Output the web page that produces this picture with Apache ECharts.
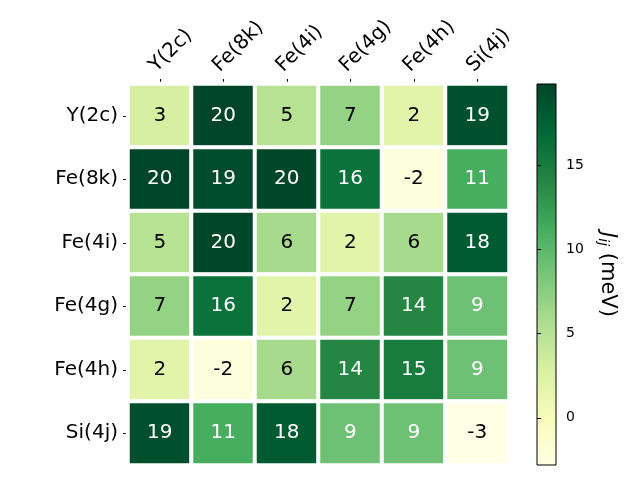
<!DOCTYPE html>
<html><head><meta charset="utf-8">
<script src="https://cdn.jsdelivr.net/npm/echarts@6/dist/echarts.min.js"></script>
<style>html,body{margin:0;padding:0;background:#fff}#c{width:640px;height:480px}</style>
</head><body><div id="c"></div>
<script>
const sites = ['Y(2c)', 'Fe(8k)', 'Fe(4i)', 'Fe(4g)', 'Fe(4h)', 'Si(4j)'];
const rowY2c  = [3.0, 19.8, 5.0, 7.0, 2.0, 19.0];
const rowFe8k = [19.8, 19.2, 19.7, 16.0, -2.2, 11.0];
const rowFe4i = [5.0, 19.7, 6.0, 2.0, 6.0, 18.0];
const rowFe4g = [7.0, 16.0, 2.0, 7.0, 14.0, 9.0];
const rowFe4h = [2.0, -2.2, 6.0, 14.0, 15.0, 9.0];
const rowSi4j = [19.0, 11.0, 18.0, 9.0, 9.0, -2.8];
const matrix = [rowY2c, rowFe8k, rowFe4i, rowFe4g, rowFe4h, rowSi4j];
const vMin = -2.8, vMax = 19.8;
const cbTicks = [0, 5, 10, 15];
const ylgn = ['#ffffe5','#f7fcb9','#d9f0a3','#addd8e','#78c679','#41ab5d','#238443','#006837','#004529'];

const thresh = (vMin + vMax) / 2;
const data = [];
matrix.forEach((row, i) => row.forEach((v, j) => {
  data.push({value: [j, i, v], label: {color: v > thresh ? '#ffffff' : '#000000'}});
}));

const cbGradient = new echarts.graphic.LinearGradient(0, 1, 0, 0,
  ylgn.map((c, k) => ({offset: k / (ylgn.length - 1), color: c})));

const font = 'DejaVu Sans';
const chart = echarts.init(document.getElementById('c'), null, {renderer: 'canvas'});
chart.setOption({
  animation: false,
  backgroundColor: '#ffffff',
  textStyle: {fontFamily: font},
  grid: [
    {left: 128, top: 84, width: 381, height: 381, show: false},
    {left: 537, top: 84, width: 19, height: 381, show: true, borderColor: '#000', borderWidth: 1, backgroundColor: cbGradient}
  ],
  xAxis: [
    {type: 'category', data: sites, position: 'top', gridIndex: 0,
     axisLine: {show: false}, splitArea: {show: false},
     axisTick: {show: true, alignWithLabel: true, length: 5, lineStyle: {color: '#000', width: 1}},
     axisLabel: {rotate: -45, fontSize: 20, color: '#000', fontFamily: font, margin: 8,
       align: 'left', verticalAlign: 'bottom', lineHeight: 20}},
    {type: 'value', gridIndex: 1, show: false, min: 0, max: 1}
  ],
  yAxis: [
    {type: 'category', data: sites, inverse: true, gridIndex: 0,
     axisLine: {show: false},
     axisTick: {show: true, alignWithLabel: true, length: 5, lineStyle: {color: '#000', width: 1}},
     axisLabel: {fontSize: 20, color: '#000', fontFamily: font, margin: 10}},
    {type: 'value', gridIndex: 1, position: 'right', min: vMin, max: vMax,
     axisLine: {show: false}, splitLine: {show: false},
     axisTick: {show: true, length: 4, lineStyle: {color: '#000'}, customValues: cbTicks},
     axisLabel: {fontSize: 14, color: '#000', fontFamily: font, margin: 10, customValues: cbTicks},
     name: '{j|J}{s|ij} (meV)', nameLocation: 'middle', nameGap: 40, nameRotate: -90,
     nameTextStyle: {fontSize: 21, color: '#000', fontFamily: font,
       rich: {j: {fontSize: 21, fontStyle: 'italic', fontFamily: font},
              s: {fontSize: 14, fontStyle: 'italic', fontFamily: font, verticalAlign: 'bottom', padding: [9,0,0,0]}}}}
  ],
  visualMap: {
    type: 'continuous', min: vMin, max: vMax, show: false,
    seriesIndex: 0, dimension: 2,
    inRange: {color: ylgn}
  },
  series: [{
    type: 'heatmap', xAxisIndex: 0, yAxisIndex: 0, data: data,
    itemStyle: {borderColor: '#ffffff', borderWidth: 4},
    label: {show: true, fontSize: 20, fontFamily: font,
      formatter: p => String(Math.round(p.value[2]))}
  }]
});
</script></body></html>
